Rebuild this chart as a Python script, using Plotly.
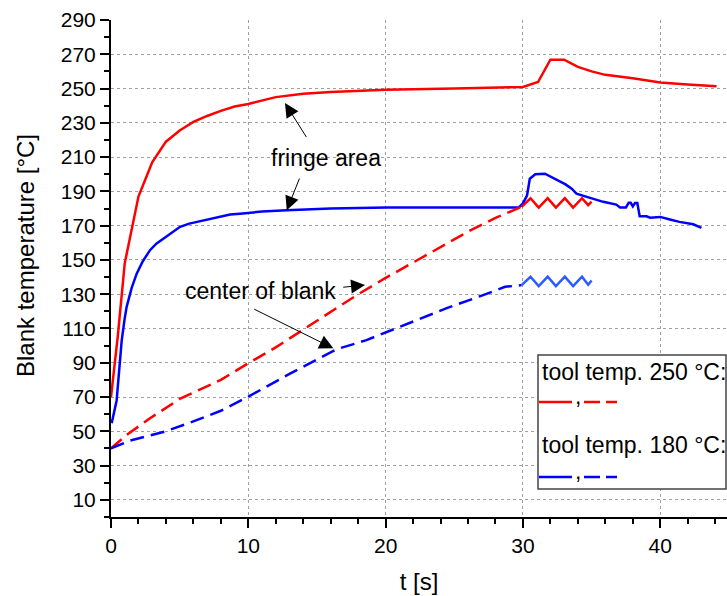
import plotly.graph_objects as go

# ---- data: time [s] and blank temperature [°C] ----
# tool temperature 250 °C, fringe area (solid)
t_fringe_250 = [0, 0.5, 1, 2, 3, 4, 5, 6, 7, 8, 9, 10, 12, 14, 16, 18, 20, 25, 30,
                31.1, 32, 33, 34, 35, 36, 38, 40, 42, 44.1]
T_fringe_250 = [70, 106, 148, 187, 207, 219, 225.5, 230.5, 234, 237, 239.5, 241,
                245, 247, 248, 248.8, 249.3, 250, 250.9, 253.8, 266.8, 266.8, 262.6,
                260, 258, 256, 253.5, 252.3, 251.3]

# tool temperature 180 °C, fringe area (solid)
t_fringe_180 = [0.05, 0.41, 0.6, 0.78, 1.0, 1.14, 1.5, 1.87, 2.3, 2.84, 3.3,
                3.81, 4.4, 5.03, 5.7, 6.48, 7.5, 8.67, 9.4, 11, 12.8, 16, 20.1, 25,
                29.7, 30.0, 30.3, 30.5, 30.9, 31.6, 32.3, 33.1, 33.55, 33.9, 34.65,
                35.85, 36.8, 37.07, 37.5, 37.7, 37.85, 38.0, 38.16, 38.33, 38.5,
                39.0, 39.26, 40.0, 40.7, 41.4, 42.4, 43.0]
T_fringe_180 = [54.7, 68, 86, 103, 116, 122.6, 133.5, 142, 149, 155.7, 159.5,
                162.5, 166, 169.3, 171.2, 172.6, 174.5, 176.5, 177, 178.2, 179, 180,
                180.6, 180.6, 180.6, 183, 187.7, 197.4, 200, 200.3, 197.4, 194.1,
                191.6, 188.7, 186.8, 183.9, 182.3, 180.6, 180.6, 183.3, 183.3, 181.2,
                183.2, 183.2, 175.5, 175.5, 174.6, 175.1, 173.6, 172.2, 170.8, 168.7]

# tool temperature 250 °C, center of blank (dashed heating, then holding)
t_center_250 = [0, 1.14, 2.84, 5, 6.5, 8, 10, 12, 15, 18, 20, 23, 26, 28, 29.9]
T_center_250 = [40, 47.9, 57.6, 68.9, 74.5, 80, 89.7, 99, 114.5, 130, 139.5, 153,
                166.5, 174.5, 181]
t_hold_250 = [29.9, 30.55, 31.15, 31.8, 32.4, 33.05, 33.65, 34.3, 34.75, 35.0]
T_hold_250 = [181, 186, 180.5, 186, 180.5, 186, 180.5, 186, 182, 184]

# tool temperature 180 °C, center of blank (dashed heating, then holding)
t_center_180 = [0, 1.38, 3.9, 5.75, 8, 10, 13, 16.4, 18.6, 22, 24.5, 26.9, 28.7, 29.9]
T_center_180 = [40, 44.6, 49.8, 55, 62, 70.2, 83.5, 97.8, 103.2, 114, 122, 128.9,
                134.3, 135.3]
t_hold_180 = [29.9, 30.55, 31.15, 31.8, 32.4, 33.05, 33.65, 34.3, 34.75, 35.0]
T_hold_180 = [135.3, 140.2, 134.7, 140.2, 134.7, 140.2, 134.7, 140.2, 135.5, 138]

RED = "#ff0000"
BLUE = "#0000ff"
BLUE_HOLD = "#2a5cff"
FONT = "Liberation Sans, Arial, sans-serif"
DASH = "14px,7px"

fig = go.Figure()
fig.add_trace(go.Scatter(x=t_fringe_250, y=T_fringe_250, mode="lines",
                         line=dict(color=RED, width=2.5)))
fig.add_trace(go.Scatter(x=t_fringe_180, y=T_fringe_180, mode="lines",
                         line=dict(color=BLUE, width=2.5)))
fig.add_trace(go.Scatter(x=t_center_250, y=T_center_250, mode="lines",
                         line=dict(color=RED, width=2.5, dash=DASH)))
fig.add_trace(go.Scatter(x=t_hold_250, y=T_hold_250, mode="lines",
                         line=dict(color=RED, width=2.5)))
fig.add_trace(go.Scatter(x=t_center_180, y=T_center_180, mode="lines",
                         line=dict(color=BLUE, width=2.5, dash=DASH)))
fig.add_trace(go.Scatter(x=t_hold_180, y=T_hold_180, mode="lines",
                         line=dict(color=BLUE_HOLD, width=2.5)))

W, H = 727, 596
ML, MR, MT, MB = 111, 0, 20, 79


def px(x):
    return (x - ML) / (W - ML - MR)


def py(y):
    return (H - MB - y) / (H - MT - MB)


def label(text, x, y, size=23, **kw):
    d = dict(x=px(x), y=py(y), xref="paper", yref="paper", text=text,
             showarrow=False, xanchor="center", yanchor="middle",
             font=dict(family=FONT, size=size, color="black"))
    d.update(kw)
    return d


annotations = []
# labelled arrows (head at x/y, tail at ax/ay, all in data units)
arrow = dict(xref="x", yref="y", axref="x", ayref="y", text="", showarrow=True,
             arrowhead=2, arrowsize=2.8, arrowwidth=1, arrowcolor="black")
for head, tail in [((12.67, 241.5), (14.3, 220.8)),
                   ((12.8, 179), (13.77, 198.4)),
                   ((18.5, 135.3), (16.8, 134)),
                   ((16.19, 98.4), (10.32, 121.7))]:
    annotations.append(dict(arrow, x=head[0], y=head[1], ax=tail[0], ay=tail[1]))

annotations.append(label("fringe area", 326, 158))
annotations.append(label("center of blank", 260, 291))

# legend box contents
annotations.append(label("tool temp. 250 °C:", 540, 372, xanchor="left"))
annotations.append(label("tool temp. 180 °C:", 540, 445, xanchor="left"))
for yc in (402, 477):
    annotations.append(label(",", 573, yc - 6, xanchor="left"))

# y-axis title
annotations.append(label("Blank temperature [°C]", 25, 256, size=24,
                         textangle=-90))

shapes = [
    dict(type="rect", xref="paper", yref="paper", x0=px(538), x1=px(726),
         y0=py(489), y1=py(355), line=dict(color="#444444", width=1.5),
         fillcolor="white", layer="above"),
]
for yc, col in [(402, RED), (477, BLUE)]:
    shapes.append(dict(type="line", xref="paper", yref="paper", x0=px(539),
                       x1=px(572), y0=py(yc), y1=py(yc),
                       line=dict(color=col, width=2.5)))
    shapes.append(dict(type="line", xref="paper", yref="paper", x0=px(584),
                       x1=px(617), y0=py(yc), y1=py(yc),
                       line=dict(color=col, width=2.5, dash="16px,6px")))

fig.update_layout(
    width=W, height=H,
    margin=dict(l=ML, r=MR, t=MT, b=MB, pad=0),
    paper_bgcolor="white", plot_bgcolor="white",
    showlegend=False,
    font=dict(family=FONT, size=20, color="black"),
    annotations=annotations,
    shapes=shapes,
)

fig.update_xaxes(
    range=[0, 44.86], tick0=0, dtick=10,
    showline=True, linecolor="black", linewidth=2,
    ticks="outside", ticklen=9, tickwidth=2, tickcolor="black",
    tickfont=dict(family=FONT, size=21),
    minor=dict(tick0=0, dtick=2, ticks="outside", ticklen=5, tickwidth=2,
               tickcolor="black", showgrid=False),
    showgrid=True, gridcolor="#a0a0a0", gridwidth=1, griddash="dot",
    zeroline=False,
    title=dict(text="t [s]", font=dict(family=FONT, size=24), standoff=17),
)
fig.update_yaxes(
    range=[0, 290], tick0=10, dtick=20,
    showline=True, linecolor="black", linewidth=2,
    ticks="outside", ticklen=9, tickwidth=2, tickcolor="black",
    tickfont=dict(family=FONT, size=21),
    minor=dict(tick0=0, dtick=10, ticks="outside", ticklen=5, tickwidth=2,
               tickcolor="black", showgrid=False),
    showgrid=True, gridcolor="#a0a0a0", gridwidth=1, griddash="dot",
    zeroline=False,
)

fig.write_html("out.html")
